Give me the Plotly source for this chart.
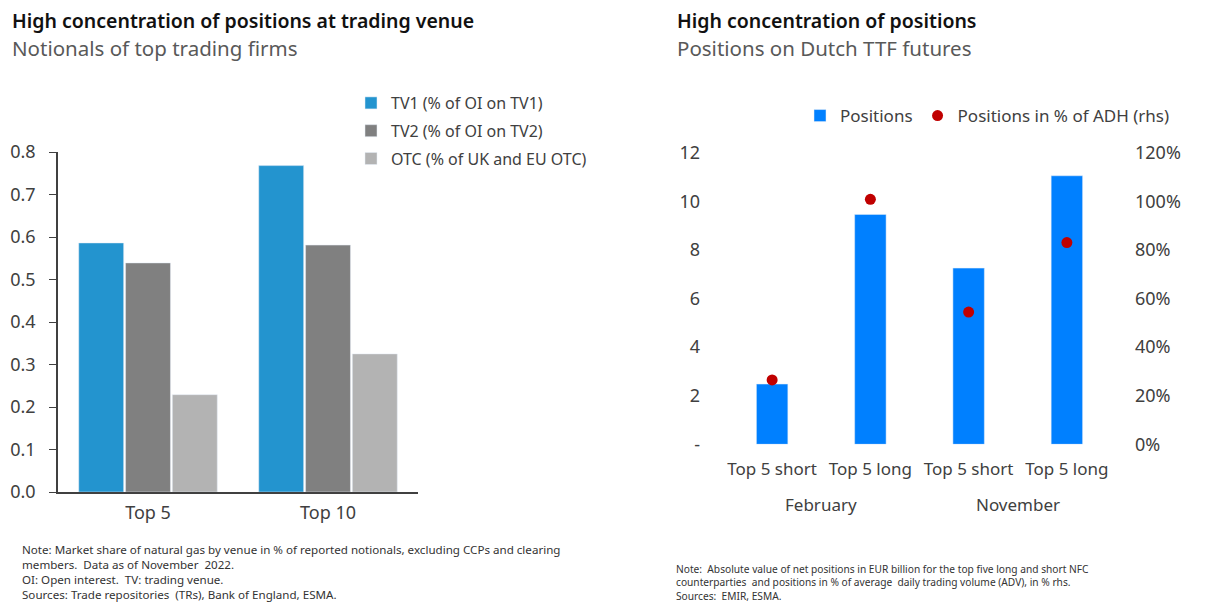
import plotly.graph_objects as go

# left panel: notionals of top trading firms
groups = ["Top 5", "Top 10"]
tv1 = [0.586, 0.768]
tv2 = [0.539, 0.581]
otc = [0.229, 0.325]

# right panel: positions on Dutch TTF futures
months = ["February", "February", "November", "November"]
sides = ["Top 5 short", "Top 5 long", "Top 5 short", "Top 5 long"]
positions = [2.48, 9.46, 7.25, 11.05]
pct_adh = [26.5, 100.8, 54.4, 83.0]
pct_ticks = [0, 20, 40, 60, 80, 100, 120]

FONT = "Noto Sans"
W, H = 1206, 605


def px_x(p):
    return p / W


def px_y(p):
    return 1 - p / H


fig = go.Figure()

left_series = [
    (tv1, "TV1 (% of OI on TV1)", "#2394CF"),
    (tv2, "TV2 (% of OI on TV2)", "#808080"),
    (otc, "OTC (% of UK and EU OTC)", "#B3B3B3"),
]
for vals, name, color in left_series:
    fig.add_trace(go.Bar(x=groups, y=vals, name=name, marker_color=color,
                         legendgroup=name, xaxis="x", yaxis="y", legend="legend"))

# right panel uses positions 0..n-1 so repeated labels stay separate
idx = list(range(len(sides)))
fig.add_trace(go.Bar(x=idx, y=positions, name="Positions",
                     marker_color="#0080FF", width=0.32,
                     xaxis="x2", yaxis="y2", legend="legend2"))
fig.add_trace(go.Scatter(x=idx, y=pct_adh, mode="markers",
                         name="Positions in % of ADH (rhs)",
                         marker=dict(color="#C00000", size=11),
                         xaxis="x2", yaxis="y3", legend="legend2"))

tick_font = dict(family=FONT, size=18, color="#404040")
cat_font = dict(family=FONT, size=17, color="#404040")

fig.update_layout(
    width=W, height=H,
    margin=dict(l=0, r=0, t=0, b=0, autoexpand=False),
    paper_bgcolor="white", plot_bgcolor="white",
    font=dict(family=FONT, color="#404040"),
    barmode="group", bargap=0.22, bargroupgap=0.04,
    xaxis=dict(domain=[px_x(58), px_x(418)], anchor="y", automargin=False,
               showline=True, linecolor="#404040", linewidth=1.5,
               ticks="", tickfont=tick_font, showgrid=False, ticklabelstandoff=4),
    yaxis=dict(domain=[px_y(492), px_y(152)], anchor="x", range=[0, 0.8], automargin=False,
               tickvals=[0, 0.1, 0.2, 0.3, 0.4, 0.5, 0.6, 0.7, 0.8],
               tickformat=".1f", showline=True, linecolor="#404040", linewidth=1.5,
               ticks="outside", ticklen=7, tickcolor="#404040",
               ticklabelstandoff=10, tickfont=tick_font,
               showgrid=False, zeroline=False),
    xaxis2=dict(domain=[px_x(723), px_x(1116)], anchor="y2", range=[-0.5, len(idx) - 0.5],
                automargin=False, tickvals=idx, ticktext=sides, showline=False,
                ticks="", tickfont=cat_font, showgrid=False, zeroline=False,
                ticklabelstandoff=13),
    yaxis2=dict(domain=[px_y(444.3), px_y(152.7)], anchor="x2", range=[0, 12],
                automargin=False, tickvals=[0, 2, 4, 6, 8, 10, 12],
                ticktext=["-", "2", "4", "6", "8", "10", "12"],
                showline=False, showgrid=False, zeroline=False,
                ticklabelstandoff=22, tickfont=tick_font),
    yaxis3=dict(overlaying="y2", side="right", anchor="x2", range=[0, 120],
                automargin=False, tickvals=pct_ticks,
                ticktext=[f"{v}%" for v in pct_ticks],
                showline=False, showgrid=False, zeroline=False,
                ticklabelstandoff=18, tickfont=tick_font),
    legend=dict(x=px_x(351), y=px_y(86), xanchor="left", yanchor="top",
                orientation="v", font=dict(family=FONT, size=16, color="#404040"),
                tracegroupgap=4, bgcolor="rgba(0,0,0,0)"),
    legend2=dict(x=px_x(800), y=px_y(98), xanchor="left", yanchor="top",
                 orientation="h", font=dict(family=FONT, size=17, color="#404040"),
                 bgcolor="rgba(0,0,0,0)"),
    showlegend=True,
)

# month labels under each pair of categories
for m in dict.fromkeys(months):
    pos = [i for i, mm in zip(idx, months) if mm == m]
    fig.add_annotation(x=sum(pos) / len(pos), xref="x2", y=px_y(504), yref="paper",
                       text=m, showarrow=False, yanchor="middle", font=cat_font)

title_font = dict(family=FONT, size=19.5, color="#111111", weight=600)
sub_font = dict(family=FONT, size=20.5, color="#595959")
note_font_l = dict(family=FONT, size=11.6, color="#333333")
note_font_r = dict(family=FONT, size=10.2, color="#333333")

annotations = [
    dict(text="High concentration of positions at trading venue", x=px_x(10), y=px_y(5),
         font=title_font),
    dict(text="Notionals of top trading firms", x=px_x(10), y=px_y(32), font=sub_font),
    dict(text="High concentration of positions", x=px_x(675), y=px_y(5), font=title_font),
    dict(text="Positions on Dutch TTF futures", x=px_x(675), y=px_y(32), font=sub_font),
    dict(text="Note: Market share of natural gas by venue in % of reported notionals, excluding CCPs and clearing<br>"
              "members.  Data as of November  2022.<br>"
              "OI: Open interest.  TV: trading venue.<br>"
              "Sources: Trade repositories  (TRs), Bank of England, ESMA.",
         x=px_x(20), y=px_y(540), font=note_font_l),
    dict(text="Note:  Absolute value of net positions in EUR billion for the top five long and short NFC<br>"
              "counterparties  and positions in % of average  daily trading volume (ADV), in % rhs.<br>"
              "Sources:  EMIR, ESMA.",
         x=px_x(674), y=px_y(560), font=note_font_r),
]
for a in annotations:
    fig.add_annotation(xref="paper", yref="paper", xanchor="left", yanchor="top",
                       showarrow=False, align="left", **a)

fig.write_html("out.html", config={"displayModeBar": False},
               post_script="document.body.style.margin='0';")
